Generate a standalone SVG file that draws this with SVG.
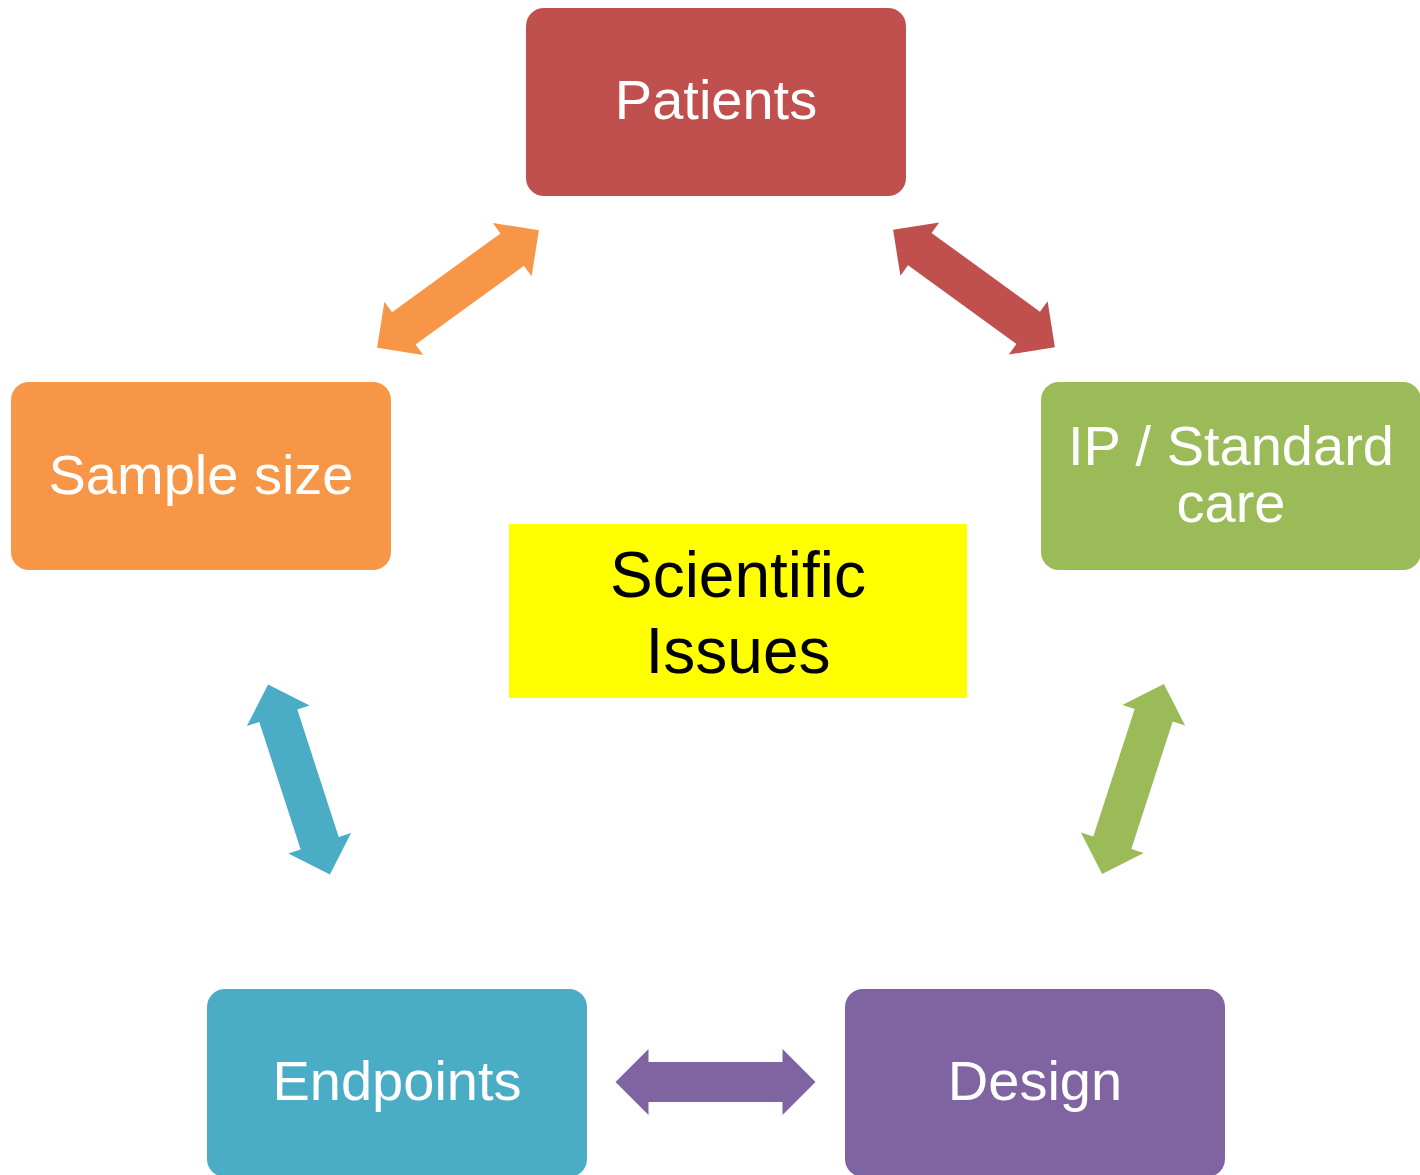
<svg xmlns="http://www.w3.org/2000/svg" xmlns:xlink="http://www.w3.org/1999/xlink" width="1420" height="1175" viewBox="0 0 1420 1175">
  <defs>
    <!-- double-headed block arrow, 200 long, centred on the origin -->
    <polygon id="dbl-arrow" points="-100,0 -67,-33 -67,-20 67,-20 67,-33 100,0 67,33 67,20 -67,20 -67,33"/>
  </defs>
  <style>
    .box { rx: 18; ry: 18; }
    .label { font-family: "Liberation Sans", Arial, sans-serif; font-size: 56px; fill: #ffffff; text-anchor: middle; }
    .center-label { font-family: "Liberation Sans", Arial, sans-serif; font-size: 64px; fill: #000000; text-anchor: middle; }
  </style>
  <rect width="1420" height="1175" fill="#ffffff"/>

  <g id="connectors">
    <use xlink:href="#dbl-arrow" fill="#F79646" transform="translate(458 289) rotate(-36)"/>
    <use xlink:href="#dbl-arrow" fill="#C0504D" transform="translate(974 288.5) rotate(36)"/>
    <use xlink:href="#dbl-arrow" fill="#4BACC6" transform="translate(299 779.5) rotate(72)"/>
    <use xlink:href="#dbl-arrow" fill="#9BBB59" transform="translate(1133 779) rotate(-72)"/>
    <use xlink:href="#dbl-arrow" fill="#8064A2" transform="translate(715.5 1082)"/>
  </g>

  <g id="node-patients">
    <rect class="box" x="526" y="8" width="380" height="188" fill="#C0504D"/>
    <text class="label" x="716" y="119">Patients</text>
  </g>

  <g id="node-ip-standard-care">
    <rect class="box" x="1041" y="382" width="380" height="188" fill="#9BBB59"/>
    <text class="label" x="1231" y="465">IP / Standard<tspan x="1231" dy="57">care</tspan></text>
  </g>

  <g id="node-sample-size">
    <rect class="box" x="11" y="382" width="380" height="188" fill="#F79646"/>
    <text class="label" x="201" y="494">Sample size</text>
  </g>

  <g id="node-endpoints">
    <rect class="box" x="207" y="989" width="380" height="188" fill="#4BACC6"/>
    <text class="label" x="397" y="1100">Endpoints</text>
  </g>

  <g id="node-design">
    <rect class="box" x="845" y="989" width="380" height="188" fill="#8064A2"/>
    <text class="label" x="1035" y="1100">Design</text>
  </g>

  <g id="node-scientific-issues">
    <rect x="509" y="524" width="458" height="174" fill="#FFFF00"/>
    <text class="center-label" x="738" y="597">Scientific<tspan x="738" dy="76">Issues</tspan></text>
  </g>
</svg>
